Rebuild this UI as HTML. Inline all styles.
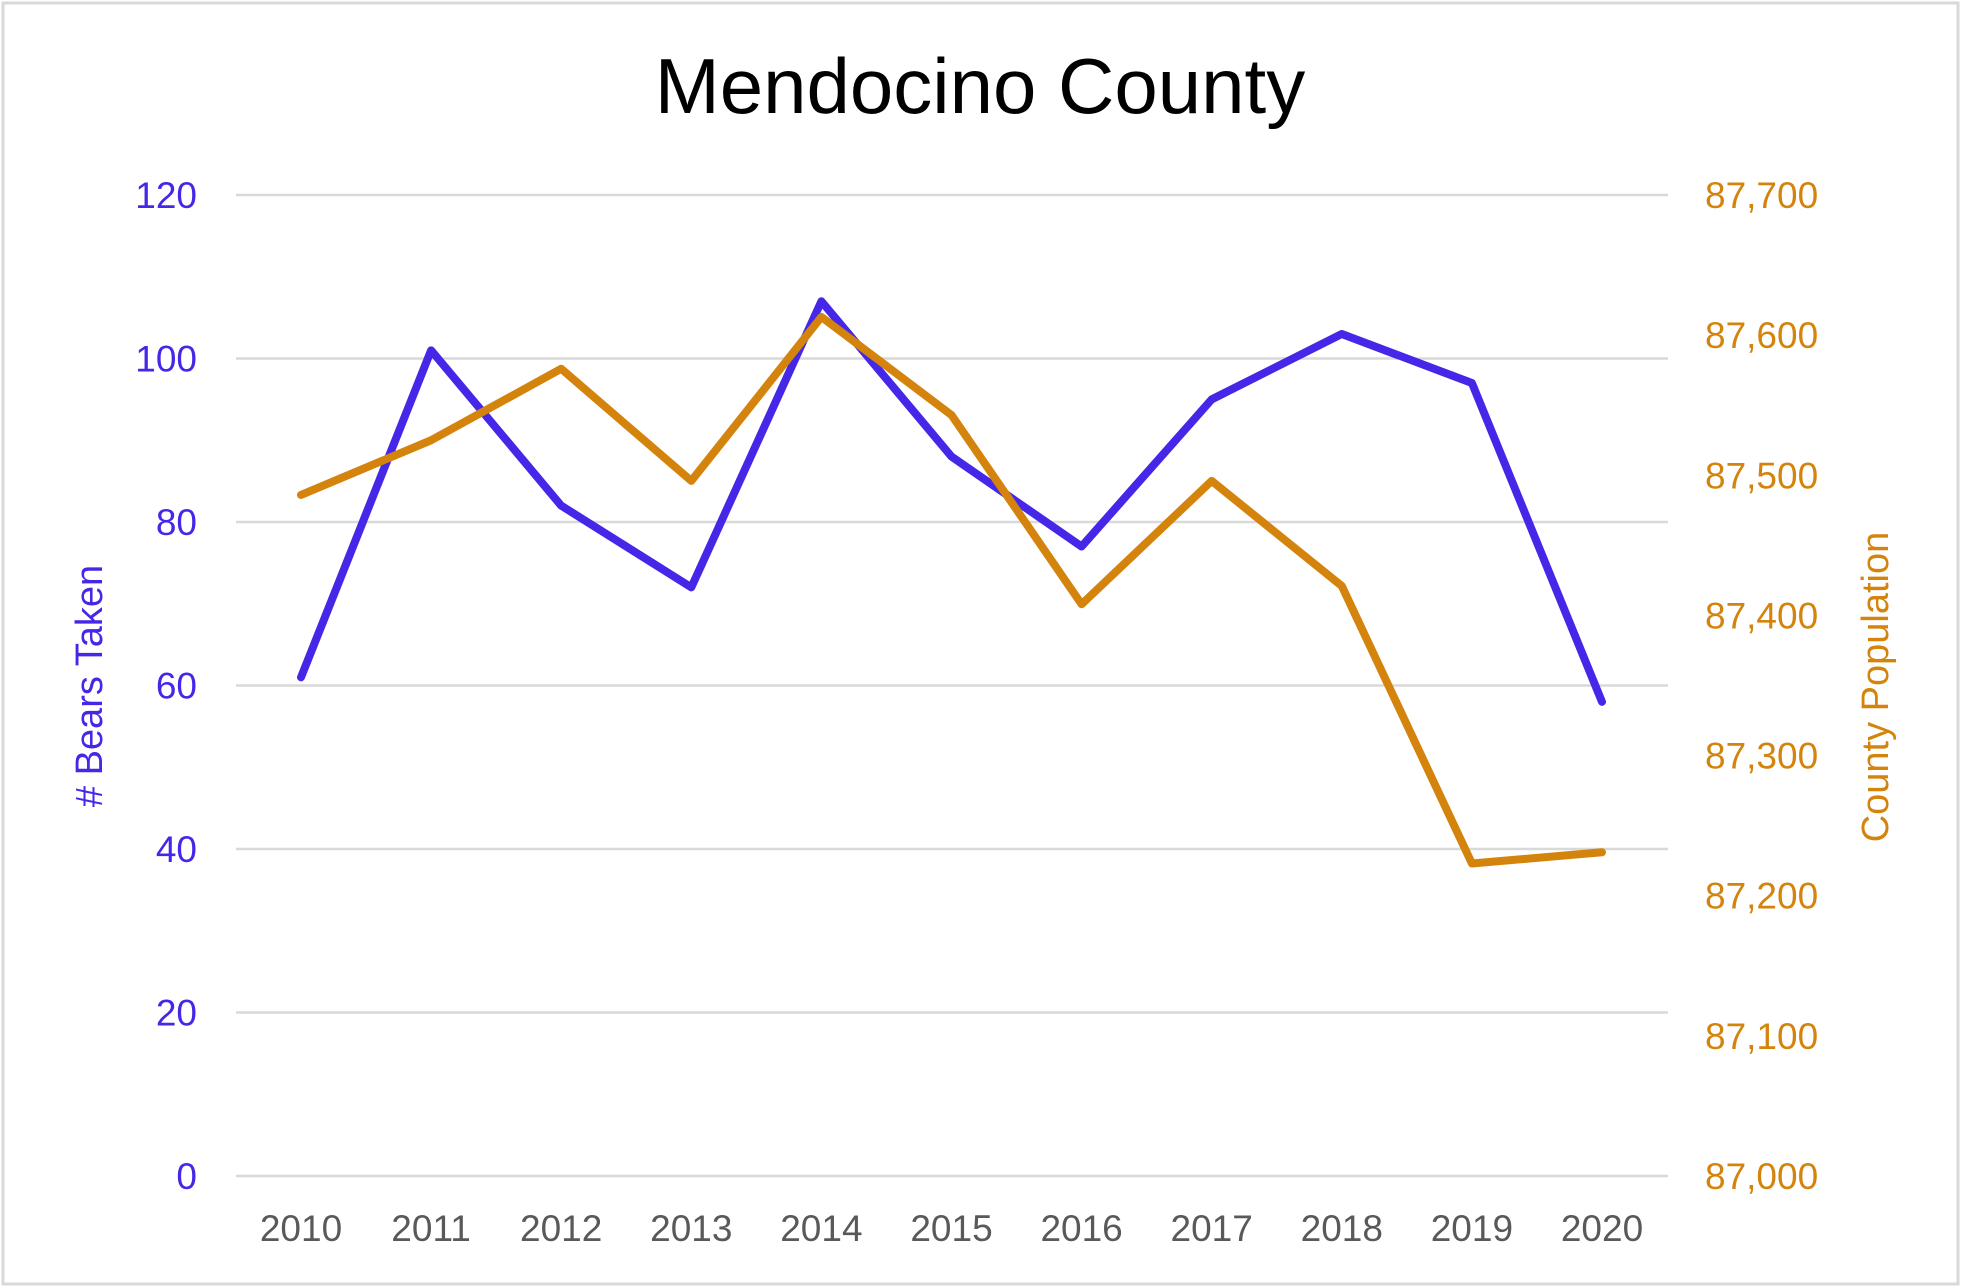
<!DOCTYPE html>
<html><head><meta charset="utf-8"><style>
html,body{margin:0;padding:0;background:#fff;}
svg{display:block;font-family:"Liberation Sans",sans-serif;}
</style></head><body>
<svg id="chart" width="1961" height="1287" viewBox="0 0 1961 1287">
<rect x="3" y="3" width="1955" height="1281" fill="#fff" stroke="#d9d9d9" stroke-width="3"/>
<text x="980" y="113" text-anchor="middle" font-size="78" fill="#000">Mendocino County</text>
<text transform="translate(102,686) rotate(-90)" text-anchor="middle" font-size="38" fill="#4527e8"># Bears Taken</text>
<text transform="translate(1888,687) rotate(-90)" text-anchor="middle" font-size="38" fill="#d4840c">County Population</text>
<g id="grid"></g><g id="lt"></g><g id="rt"></g><g id="xt"></g><g id="series"></g>
</svg>
<script>
const years = ['2010','2011','2012','2013','2014','2015','2016','2017','2018','2019','2020'];
const bears = [61,101,82,72,107,88,77,95,103,97,58];
const population = [87486,87525,87576,87496,87613,87543,87408,87496,87421,87223,87231];
const leftTicks = [0,20,40,60,80,100,120];
const rightTicks = [87000,87100,87200,87300,87400,87500,87600,87700];
const NS='http://www.w3.org/2000/svg';
const X0=236,X1=1668,YT=195,YB=1176;
const x=i=>301+i*(1602-301)/(years.length-1);
const yL=v=>YB-(v-0)/(120-0)*(YB-YT);
const yR=v=>YB-(v-87000)/(700)*(YB-YT);
function mk(t,a,p){const e=document.createElementNS(NS,t);for(const k in a)e.setAttribute(k,a[k]);document.getElementById(p).appendChild(e);return e;}
leftTicks.forEach(v=>{
 const l=mk('line',{x1:X0,x2:X1,y1:yL(v),y2:yL(v),stroke:'#d9d9d9','stroke-width':2.5},'grid');
 
 
 const t=mk('text',{x:197,y:yL(v)+13,'text-anchor':'end','font-size':37,fill:'#4527e8'},'lt');
 t.textContent=v;
 
 
});
rightTicks.forEach(v=>{
 const t=mk('text',{x:1705,y:yR(v)+13,'font-size':37,fill:'#d4840c'},'rt');
 t.textContent=v.toLocaleString('en-US');
 
 
});
years.forEach((yv,i)=>{
 const t=mk('text',{x:x(i),y:1241,'text-anchor':'middle','font-size':37,fill:'#595959'},'xt');
 t.textContent=yv;
 
 
});
const pb=mk('polyline',{points:bears.map((v,i)=>x(i)+','+yL(v)).join(' '),fill:'none',stroke:'#4527e8','stroke-width':8,'stroke-linejoin':'round','stroke-linecap':'round'},'series');


const pp=mk('polyline',{points:population.map((v,i)=>x(i)+','+yR(v)).join(' '),fill:'none',stroke:'#d4840c','stroke-width':8,'stroke-linejoin':'round','stroke-linecap':'round'},'series');


</script>
</body></html>
